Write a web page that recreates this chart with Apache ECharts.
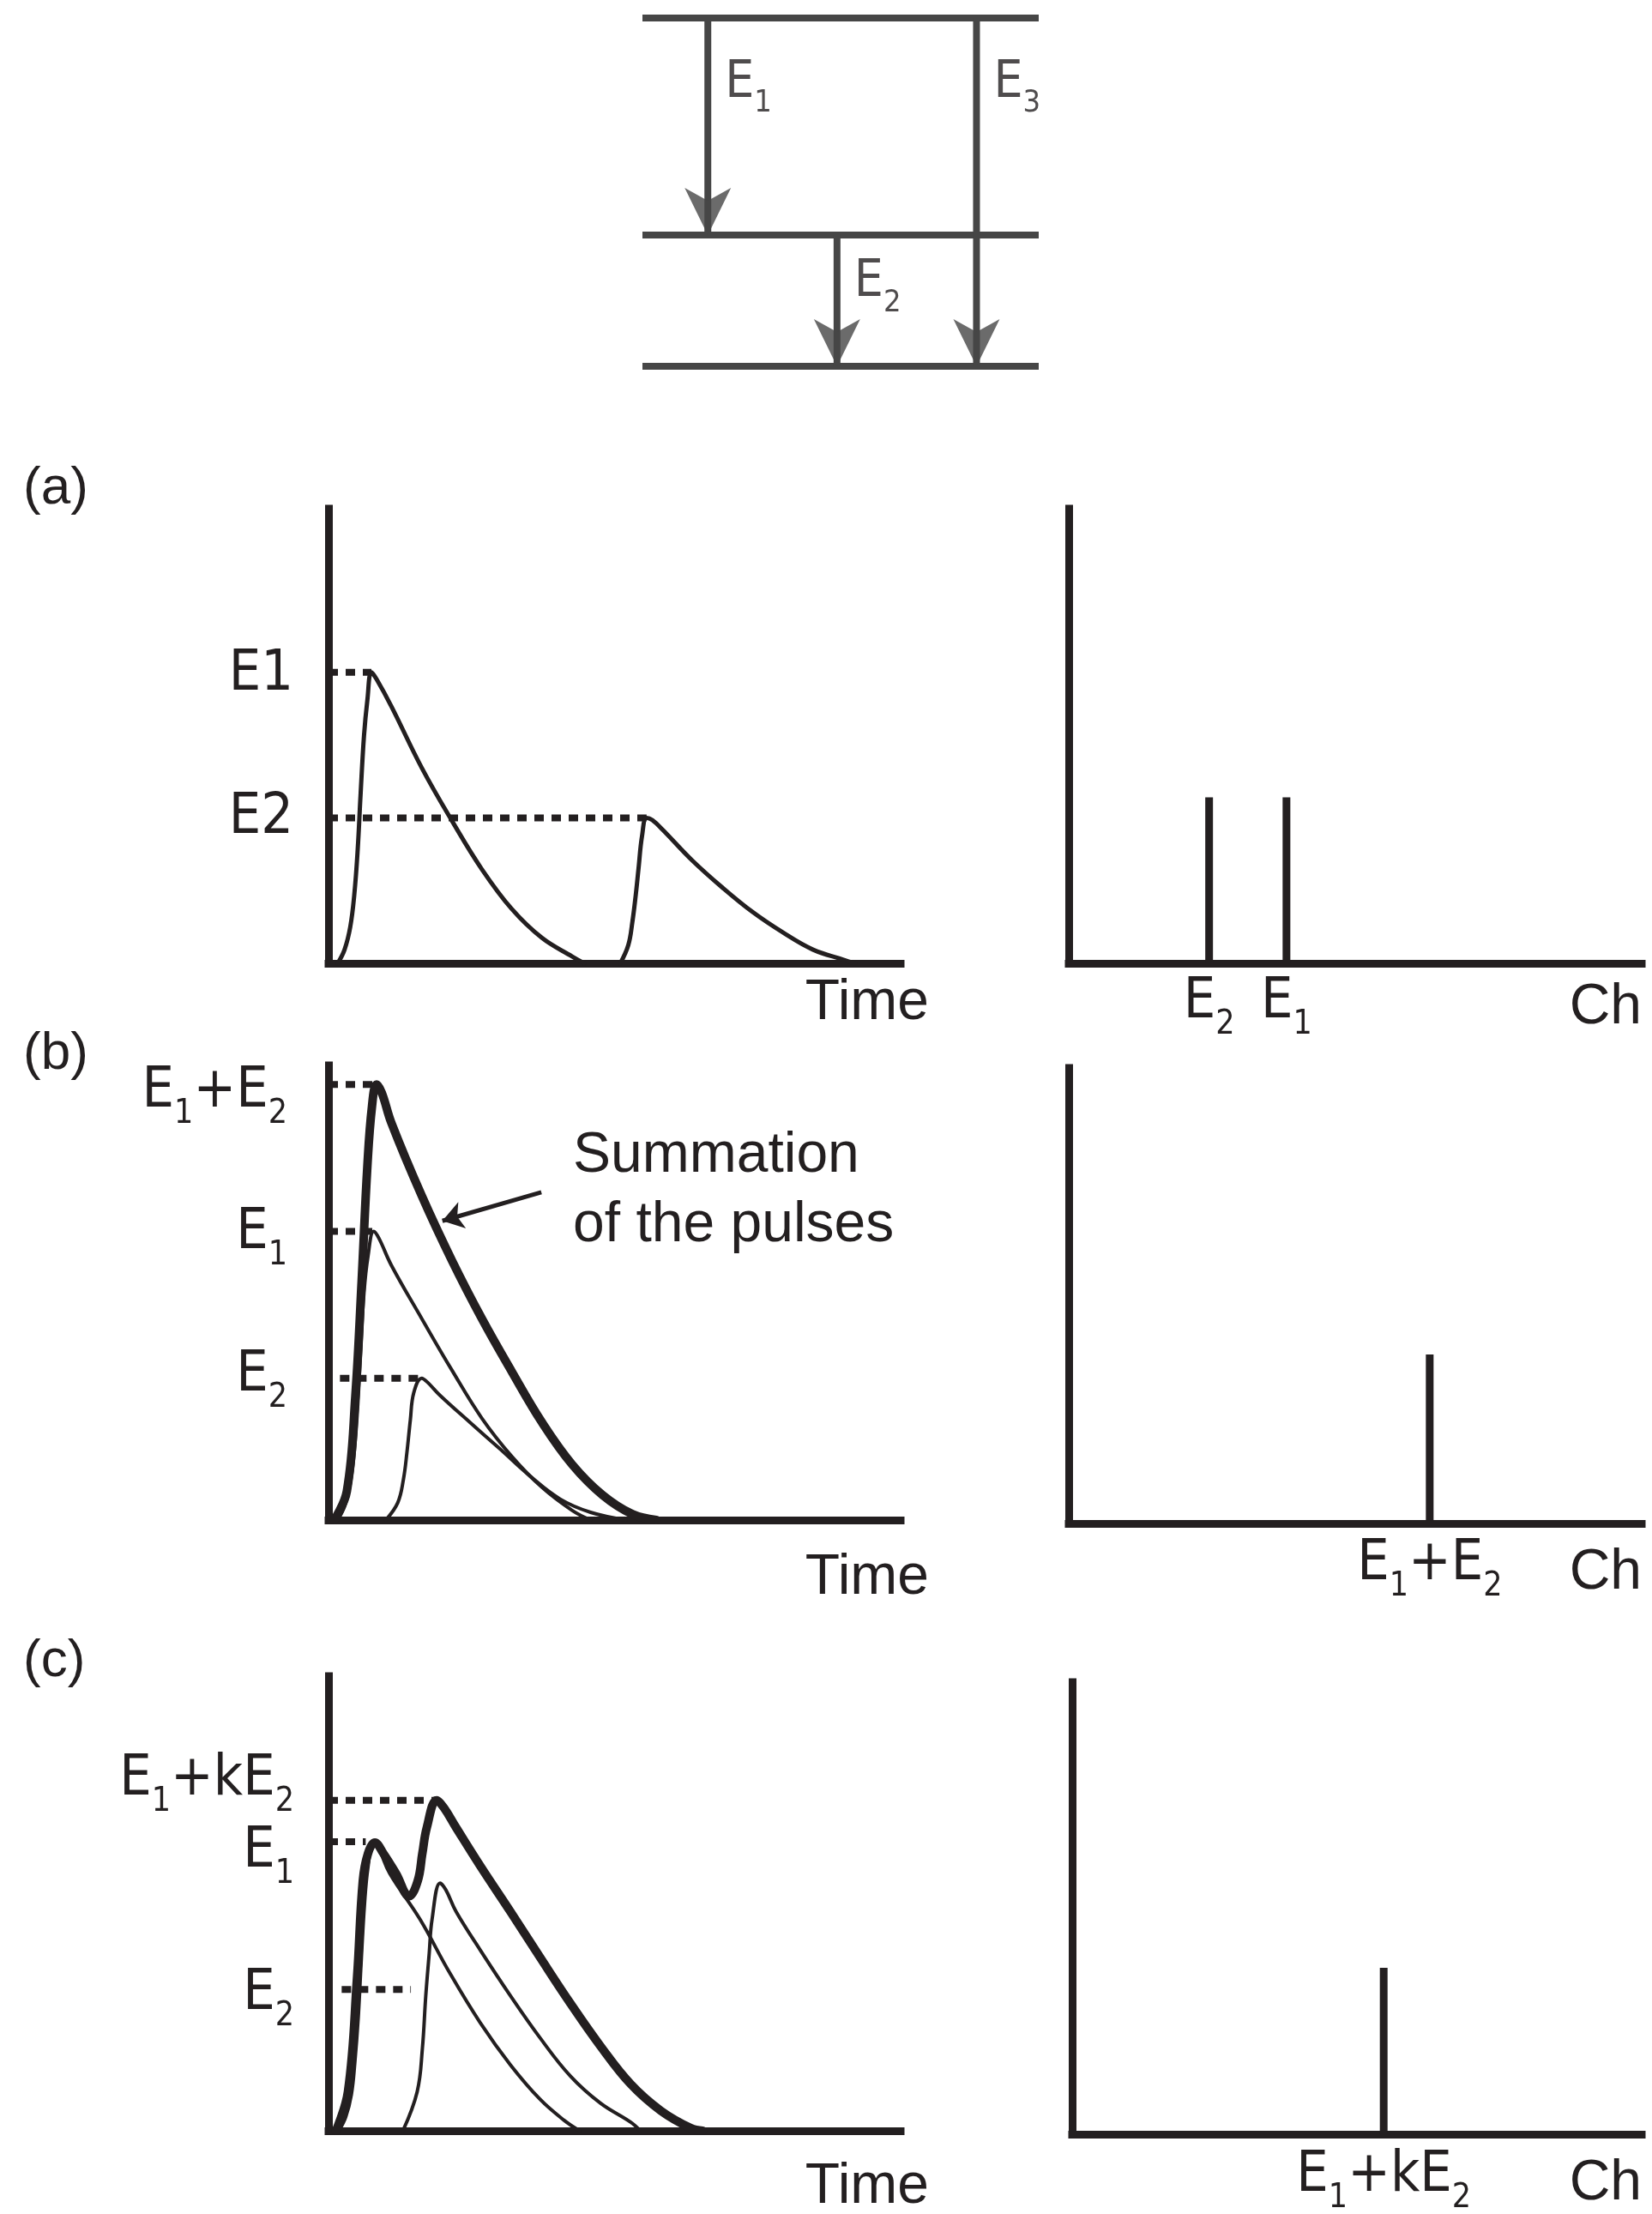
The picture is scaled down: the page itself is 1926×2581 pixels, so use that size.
<!DOCTYPE html>
<html>
<head>
<meta charset="utf-8">
<title>Pulse summing</title>
<script src="https://cdn.jsdelivr.net/npm/echarts@6/dist/echarts.min.js"></script>
<style>
  html, body { margin: 0; padding: 0; background: #fff; }
  #chart { width: 1926px; height: 2581px; }
</style>
</head>
<body>
<div id="chart"></div>
<script>
// ---- level scheme (top) ----
const levelEnergies = [0, 37.7, 100];
const transitionNames = ['E_1', 'E_2', 'E_3'];
const transitionX = [16.5, 49.1, 84.3];
const transitionFrom = [100, 37.7, 100];
const transitionTo = [37.7, 0, 0];
const transitionLabelY = [81.3, 24.1, 81.3];

// ---- (a) two pulses well apart in time ----
const pulseA1 = [[1.6, 0], [2.8, 3], [3.8, 8], [4.5, 15], [5.1, 25], [5.6, 37], [6.2, 50], [6.8, 58], [7.5, 64],
  [8.4, 62.5], [11, 56.5], [16.3, 43], [21.6, 31.3], [26.8, 20.7], [32, 12], [37.3, 5.6], [42.6, 1.5], [44.7, 0]];
const pulseA2 = [[51, 0], [52.4, 4], [53.1, 9], [53.7, 15], [54.2, 21], [54.8, 28], [55.6, 32],
  [56.6, 31.5], [58.4, 29.4], [63.6, 22.6], [68.9, 16.6], [74.1, 11.3], [79.4, 6.8], [84.7, 3], [90, 0.8], [92, 0]];
const levelsA = [64, 32];
const levelNamesA = ['E1', 'E2'];
const dashStartA = [0, 0];
const dashEndA = [7.5, 55.6];
const channelsA = [24.5, 38];
const countsA = [36.5, 36.5];
const peakNamesA = ['E_2', 'E_1'];

// ---- (b) true coincidence, full summation ----
const pulseB1 = [[1.6, 0], [2.8, 3], [3.8, 8], [4.5, 15], [5.1, 25], [5.6, 37], [6.2, 50], [6.9, 58], [7.9, 63.5],
  [8.8, 62], [11, 56], [16.3, 44.3], [21.6, 32.9], [26.8, 22.4], [32.1, 13.9], [37.3, 7.2], [42.6, 2.1], [45.8, 0]];
const pulseB2 = [[10, 0], [12.1, 3.8], [13.1, 9], [13.7, 14.8], [14.3, 22], [14.9, 28], [16.3, 31.2],
  [17.3, 30.3], [19.5, 27.4], [24.7, 21.5], [30, 15.6], [35.2, 9.7], [40.5, 4.6], [45.8, 1.7], [52, 0]];
const sumB = [[1, 0], [3.2, 6.3], [4.7, 27.4], [5.8, 52.7], [6.8, 78], [7.6, 91], [8.4, 95.8],
  [9.3, 94], [11, 87.3], [16.3, 71.3], [21.6, 57], [26.8, 44.3], [32.1, 32.5], [37.3, 21.5], [42.6, 12.2],
  [47.9, 5.5], [53.1, 1.3], [57.3, 0]];
const levelsB = [95.8, 63.5, 31.2];
const levelNamesB = ['E_1+E_2', 'E_1', 'E_2'];
const dashStartB = [0, 0, 2];
const dashEndB = [8.4, 7.9, 16.3];
const channelsB = [63];
const countsB = [37.1];
const peakNamesB = ['E_1+E_2'];
const arrowB = [[37.2, 72.1], [19.9, 65.8]];

// ---- (c) partial summation ----
const pulseC1 = [[1.8, 0], [3, 3], [4, 8], [4.6, 15], [5.2, 25], [5.7, 37], [6.3, 50], [6.9, 58], [7.8, 63.4],
  [8.8, 62], [10.7, 56.6], [16, 46.5], [21.2, 34.7], [26.5, 23.8], [31.8, 14.5], [37, 6.9], [41.2, 2.3], [43.9, 0]];
const pulseC2 = [[13, 0], [15.5, 8.6], [16.4, 18], [17, 29.7], [17.6, 39], [18.1, 46.5], [19.5, 54.5],
  [20.5, 53], [22.3, 48.2], [26.5, 39.8], [31.8, 29.7], [37, 20.4], [42.3, 12], [47.5, 6.1], [52.8, 1.9], [54.5, 0]];
const sumC = [[1.3, 0], [3.4, 8.6], [5, 33.9], [6, 55], [6.9, 61], [8.1, 63.4], [9.6, 61], [11.8, 56.6],
  [14.1, 51.6], [15.6, 55], [16.4, 61], [17.2, 66.8], [18.9, 72.7], [20.2, 71], [22.3, 66.7], [26.5, 58.3],
  [31.8, 48.2], [37, 38.1], [42.3, 28], [47.5, 18.7], [52.8, 10.3], [58.1, 4.4], [63.3, 0.6], [65.4, 0]];
const levelsC = [72.7, 63.6, 31.1];
const levelNamesC = ['E_1+kE_2', 'E_1', 'E_2'];
const dashStartC = [0, 0, 2.3];
const dashEndC = [18.9, 6.5, 14.4];
const channelsC = [54.7];
const countsC = [36.8];
const peakNamesC = ['E_1+kE_2'];

// ---- style ----
const INK = '#231f20';
const LEVEL_INK = '#464646';
const WORD_FONT = '"Liberation Sans", Arial, sans-serif';
const LABEL_FONT = '"Liberation Sans Narrow", "DejaVu Sans Condensed", "Liberation Sans", sans-serif';
const SIZE = 66, SUB_SIZE = 39, SUB_DROP = 26;
// arrow head pointing down, tip in the middle of its box so it lands on the point
const ARROW_DOWN = 'path://M0,0 L27,15 L54,0 L27,55 Z M27,110 L27.01,110 L27,109.99 Z';

const grids = [
  { left: 749, top: 21, width: 462, height: 406 },   // 0 scheme
  { left: 383, top: 593, width: 667, height: 530 },  // 1 a time
  { left: 1246, top: 593, width: 668, height: 530 }, // 2 a spectrum
  { left: 383, top: 1242, width: 667, height: 530 }, // 3 b time
  { left: 1246, top: 1245, width: 668, height: 531 },// 4 b spectrum
  { left: 383, top: 1954, width: 667, height: 530 }, // 5 c time
  { left: 1250, top: 1961, width: 664, height: 527 } // 6 c spectrum
].map(g => Object.assign({ outerBoundsMode: 'none', containLabel: false }, g));

// vertical nudges of the tick texts (px, + is down)
const yLabelShift = { 1: [3, 0], 3: [9, 2, -3], 5: [-24, 12, 6] };

function pad(s) {
  return s >= 0 ? [2 * s, 0, 0, 0] : [0, 0, -2 * s, 0];
}

// 'E_1+kE_2' -> rich text with lowered subscripts
function toRich(str, key) {
  let out = '', buf = '';
  for (let i = 0; i < str.length; i++) {
    if (str[i] === '_') {
      if (buf) out += '{m' + key + '|' + buf + '}';
      buf = '';
      out += '{s' + key + '|' + str[i + 1] + '}';
      i++;
    } else {
      buf += str[i];
    }
  }
  if (buf) out += '{m' + key + '|' + buf + '}';
  return out;
}

function richPair(key, shift, size, subSize, drop) {
  const r = {};
  r['m' + key] = { fontFamily: LABEL_FONT, fontSize: size, color: INK, padding: pad(shift) };
  r['s' + key] = { fontFamily: LABEL_FONT, fontSize: subSize, color: INK, padding: pad(shift + drop) };
  return r;
}

function baseAxis(g) {
  return {
    type: 'value', gridIndex: g, min: 0, max: 100,
    axisLine: { show: true, onZero: false, lineStyle: { color: INK, width: 9, cap: 'square' } },
    axisTick: { show: false },
    axisLabel: { show: false },
    splitLine: { show: false }
  };
}

function axisName(text, offset) {
  return {
    name: '{n|' + text + '}',
    nameLocation: 'end',
    nameTextStyle: {
      align: 'right', verticalAlign: 'middle',
      rich: { n: { fontFamily: WORD_FONT, fontSize: SIZE, color: INK, padding: pad(offset) } }
    }
  };
}

function timeXAxis(g, nameOffset) {
  return Object.assign(baseAxis(g), axisName('Time', nameOffset), { nameGap: 33 });
}

function chXAxis(g, nameOffset, channels, names, margin) {
  const rich = richPair('x' + g, 0, SIZE, SUB_SIZE, SUB_DROP);
  return Object.assign(baseAxis(g), axisName('Ch', nameOffset), {
    nameGap: 0,
    axisLabel: {
      show: true, customValues: channels, margin, verticalAlign: 'middle', align: 'center', hideOverlap: false,
      formatter: v => toRich(names[channels.indexOf(v)] || '', 'x' + g),
      rich
    }
  });
}

function levelYAxis(g, levels, names, margin) {
  let rich = {};
  levels.forEach((lv, i) => Object.assign(rich, richPair('y' + g + 'n' + i, yLabelShift[g][i], SIZE, SUB_SIZE, SUB_DROP)));
  return Object.assign(baseAxis(g), {
    axisLabel: {
      show: true, customValues: levels, margin, align: 'right', verticalAlign: 'middle', hideOverlap: false,
      formatter: v => {
        const i = levels.indexOf(v);
        return i < 0 ? '' : toRich(names[i], 'y' + g + 'n' + i);
      },
      rich
    }
  });
}

function curve(g, data, width) {
  return {
    type: 'line', xAxisIndex: g, yAxisIndex: g, data, smooth: 0.4,
    symbol: 'none', z: 3, lineStyle: { color: INK, width, cap: 'round', join: 'round' }
  };
}

function dashSeries(g, levels, from, to) {
  return levels.map((lv, i) => ({
    type: 'line', xAxisIndex: g, yAxisIndex: g, symbol: 'none', z: 2,
    data: [[from[i], lv], [to[i], lv]],
    lineStyle: { color: INK, width: 8, type: [11, 9] }
  }));
}

function spectrum(g, channels, counts) {
  return {
    type: 'bar', xAxisIndex: g, yAxisIndex: g, barWidth: 9,
    data: channels.map((c, i) => [c, counts[i]]),
    itemStyle: { color: INK }
  };
}

// ---- level scheme series ----
const schemeRich = richPair('t', 0, 60, 36, 24);
const schemeSeries = [
  ...levelEnergies.map(e => ({
    type: 'line', xAxisIndex: 0, yAxisIndex: 0, symbol: 'none',
    data: [[0, e], [100, e]], lineStyle: { color: LEVEL_INK, width: 8 }
  })),
  ...transitionX.map((x, i) => ({
    type: 'line', xAxisIndex: 0, yAxisIndex: 0, symbol: 'none',
    data: [[x, transitionFrom[i]], [x, transitionTo[i]]], lineStyle: { color: LEVEL_INK, width: 8 }
  })),
  {
    type: 'scatter', xAxisIndex: 0, yAxisIndex: 0, symbol: ARROW_DOWN, symbolSize: [54, 110],
    itemStyle: { color: LEVEL_INK }, z: 4,
    data: transitionX.map((x, i) => [x, transitionTo[i]])
  },
  {
    type: 'scatter', xAxisIndex: 0, yAxisIndex: 0, symbolSize: 0,
    data: transitionX.map((x, i) => [x, transitionLabelY[i]]),
    label: {
      show: true, position: 'right', distance: 20,
      formatter: p => toRich(transitionNames[p.dataIndex], 't'),
      rich: schemeRich
    }
  }
];

const xAxes = [
  Object.assign(baseAxis(0), { show: false }),
  timeXAxis(1, 47),
  chXAxis(2, 52, channelsA, peakNamesA, 46),
  timeXAxis(3, 68),
  chXAxis(4, 58, channelsB, peakNamesB, 48),
  timeXAxis(5, 66),
  chXAxis(6, 58, channelsC, peakNamesC, 49)
];
const yAxes = [
  Object.assign(baseAxis(0), { show: false }),
  levelYAxis(1, levelsA, levelNamesA, 41),
  baseAxis(2),
  levelYAxis(3, levelsB, levelNamesB, 48),
  baseAxis(4),
  levelYAxis(5, levelsC, levelNamesC, 40),
  baseAxis(6)
];

const series = [
  ...schemeSeries,
  curve(1, pulseA1, 5), curve(1, pulseA2, 5),
  ...dashSeries(1, levelsA, dashStartA, dashEndA),
  spectrum(2, channelsA, countsA),
  curve(3, pulseB1, 4), curve(3, pulseB2, 4), curve(3, sumB, 10),
  ...dashSeries(3, levelsB, dashStartB, dashEndB),
  {
    type: 'lines', coordinateSystem: 'cartesian2d', xAxisIndex: 3, yAxisIndex: 3,
    symbol: ['none', 'arrow'], symbolSize: 24,
    lineStyle: { color: INK, width: 5, opacity: 1 },
    data: [{ coords: arrowB }]
  },
  spectrum(4, channelsB, countsB),
  curve(5, pulseC1, 4), curve(5, pulseC2, 4), curve(5, sumC, 10),
  ...dashSeries(5, levelsC, dashStartC, dashEndC),
  spectrum(6, channelsC, countsC)
];

const panelLetter = (text, y) => ({
  type: 'text', x: 27, y,
  style: { text, font: '62px ' + WORD_FONT, fill: INK, verticalAlign: 'middle' }
});

const chart = echarts.init(document.getElementById('chart'), null, { renderer: 'canvas' });
chart.setOption({
  backgroundColor: '#ffffff',
  animation: false,
  grid: grids,
  xAxis: xAxes,
  yAxis: yAxes,
  series,
  graphic: [
    panelLetter('(a)', 570),
    panelLetter('(b)', 1229),
    panelLetter('(c)', 1937),
    {
      type: 'text', x: 668, y: 1388,
      style: {
        text: 'Summation\nof the pulses', font: SIZE + 'px ' + WORD_FONT,
        lineHeight: 81, fill: INK, verticalAlign: 'middle'
      }
    }
  ]
});
</script>
</body>
</html>
